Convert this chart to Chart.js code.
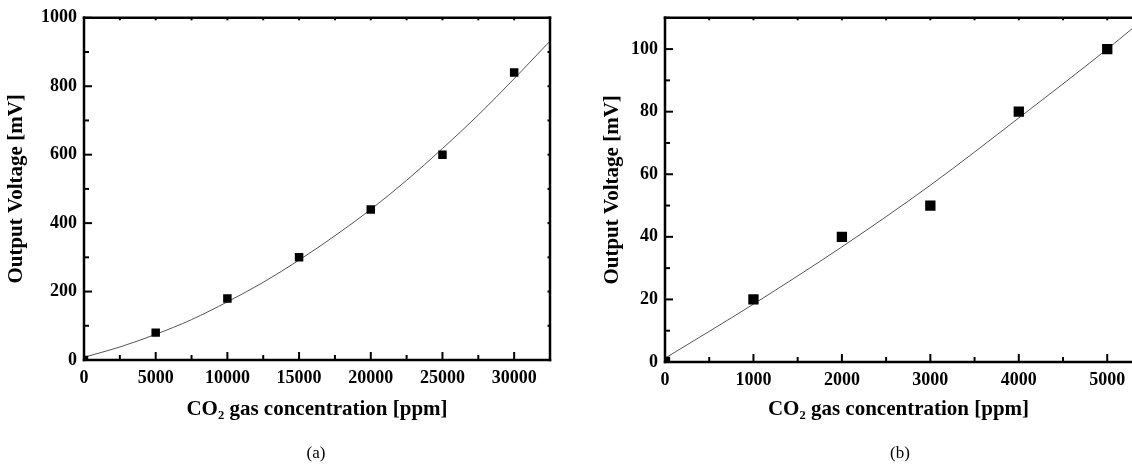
<!DOCTYPE html>
<html>
<head>
<meta charset="utf-8">
<script src="https://cdn.jsdelivr.net/npm/chart.js@4.4.1/dist/chart.umd.min.js"></script>
<style>
  html, body { margin:0; padding:0; overflow:hidden; background:#fff; }
  .wrap { position:absolute; top:0; height:468px; }
  .cap { position:absolute; font-family:'Liberation Serif', serif; font-size:17px; color:#000; text-align:center; width:100px; }
</style>
</head>
<body>
<div class="wrap" style="left:0;width:560px;"><canvas id="ca"></canvas></div>
<div class="wrap" style="left:560px;width:572px;"><canvas id="cb"></canvas></div>
<div class="cap" style="left:266px;top:443px;">(a)</div>
<div class="cap" style="left:850px;top:443px;">(b)</div>
<script>
// ---- data (a) ----
const aX = [0, 5000, 10000, 15000, 20000, 25000, 30000];
const aY = [0, 80, 180, 300, 440, 600, 840];
const aFitX = [0, 2500, 5000, 7500, 10000, 12500, 15000, 17500, 20000, 22500, 25000, 27500, 30000, 32500];
const aFitY = [8, 38, 75, 118, 170, 227, 292, 363, 440, 525, 618, 716, 822, 932];
const aXTicks = [0, 5000, 10000, 15000, 20000, 25000, 30000];
const aYTicks = [0, 200, 400, 600, 800, 1000];
// ---- data (b) ----
const bX = [0, 1000, 2000, 3000, 4000, 5000];
const bY = [0, 20, 40, 50, 80, 100];
const bFitX = [0, 1000, 2000, 3000, 4000, 5000, 5280];
const bFitY = [1.2, 18.5, 36.8, 56.5, 78, 100, 106.5];
const bXTicks = [0, 1000, 2000, 3000, 4000, 5000];
const bYTicks = [0, 20, 40, 60, 80, 100];
// ---- axis labels ----
const xTitle = 'CO\u2082 gas concentration [ppm]';
const yTitle = 'Output Voltage [mV]';

const pts = (xs, ys) => xs.map((x, i) => ({x, y: ys[i]}));
const serif = 'Liberation Serif';

function framePlugin(cfg) {
  return {
    id: 'frame',
    afterDraw(chart) {
      const {ctx, chartArea: {left, right, top, bottom}} = chart;
      const xs = chart.scales.x, ys = chart.scales.y;
      ctx.save();
      ctx.strokeStyle = '#000';
      ctx.lineWidth = 2;
      const line = (x1, y1, x2, y2) => { ctx.beginPath(); ctx.moveTo(x1, y1); ctx.lineTo(x2, y2); ctx.stroke(); };
      for (let i = 0; i * cfg.xMinor <= cfg.xMax + 1e-9; i++) {
        const px = xs.getPixelForValue(i * cfg.xMinor);
        const major = i % 2 === 0;
        line(px, bottom, px, bottom - (major ? 8 : 5));
        if (i > 0) line(px, top, px, top + 2.5);
      }
      for (let i = 0; i * cfg.yMinor <= cfg.yMax + 1e-9; i++) {
        const py = ys.getPixelForValue(i * cfg.yMinor);
        const major = i % 2 === 0;
        line(left, py, left + (major ? 8 : 5), py);
        if (cfg.right && i > 0) line(right, py, right - 2.5, py);
      }
      ctx.lineWidth = 2.5;
      ctx.lineCap = 'square';
      line(left, bottom, right + (cfg.right ? 0 : 5), bottom);
      line(left, top, right + (cfg.right ? 0 : 5), top);
      line(left, top, left, bottom);
      if (cfg.right) line(right, top, right, bottom);
      ctx.restore();
    }
  };
}

function makeChart(id, d) {
  return new Chart(document.getElementById(id), {
    type: 'scatter',
    data: {
      datasets: [
        { data: pts(d.px, d.py), pointStyle: 'rect', pointRadius: d.pr, pointHoverRadius: d.pr,
          backgroundColor: '#000', borderWidth: 0, showLine: false, order: 1 },
        { data: pts(d.fx, d.fy), showLine: true, pointRadius: 0, borderColor: '#555', borderWidth: 1,
          cubicInterpolationMode: 'monotone', fill: false, order: 2 }
      ]
    },
    options: {
      responsive: true, maintainAspectRatio: false, animation: false,
      layout: { padding: d.pad, autoPadding: false },
      plugins: { legend: { display: false }, tooltip: { enabled: false } },
      events: [],
      scales: {
        x: {
          type: 'linear', min: 0, max: d.xMax,
          grid: { display: false, drawTicks: false }, border: { display: false },
          afterBuildTicks: s => { s.ticks = d.xt.map(v => ({ value: v })); },
          ticks: { autoSkip: false, maxRotation: 0, minRotation: 0,
                   padding: 8, color: '#000', font: { family: serif, weight: 'bold', size: 18 },
                   callback: v => String(v) },
          title: { display: true, text: xTitle, color: '#000', padding: 0,
                   font: { family: serif, weight: 'bold', size: 21 } },
          afterFit: s => { s.height = d.xH; s.paddingLeft = 0; s.paddingRight = 0; }
        },
        y: {
          type: 'linear', min: 0, max: d.yMax,
          grid: { display: false, drawTicks: false }, border: { display: false },
          afterBuildTicks: s => { s.ticks = d.yt.map(v => ({ value: v })); },
          ticks: { autoSkip: false, padding: 7, color: '#000',
                   font: { family: serif, weight: 'bold', size: 18 }, callback: v => String(v) },
          title: { display: true, text: yTitle, color: '#000', padding: 0,
                   font: { family: serif, weight: 'bold', size: 21 } },
          afterFit: s => { s.width = d.yW; }
        }
      }
    },
    plugins: [framePlugin({ xMinor: d.xMinor, xMax: d.xMax, yMinor: d.yMinor, yMax: d.yMax, right: d.right })]
  });
}

makeChart('ca', { px: aX, py: aY, fx: aFitX, fy: aFitY, pr: 6, xt: aXTicks, yt: aYTicks,
  xMax: 32500, xMinor: 2500, yMax: 1000, yMinor: 100, right: true,
  pad: { left: 4, top: 16, right: 10, bottom: 46 }, xH: 62, yW: 80 });

makeChart('cb', { px: bX, py: bY, fx: bFitX, fy: bFitY, pr: 7.3, xt: bXTicks, yt: bYTicks,
  xMax: 5280, xMinor: 500, yMax: 110, yMinor: 10, right: false,
  pad: { left: 40, top: 16, right: 0, bottom: 46 }, xH: 60, yW: 65 });
</script>
</body>
</html>
